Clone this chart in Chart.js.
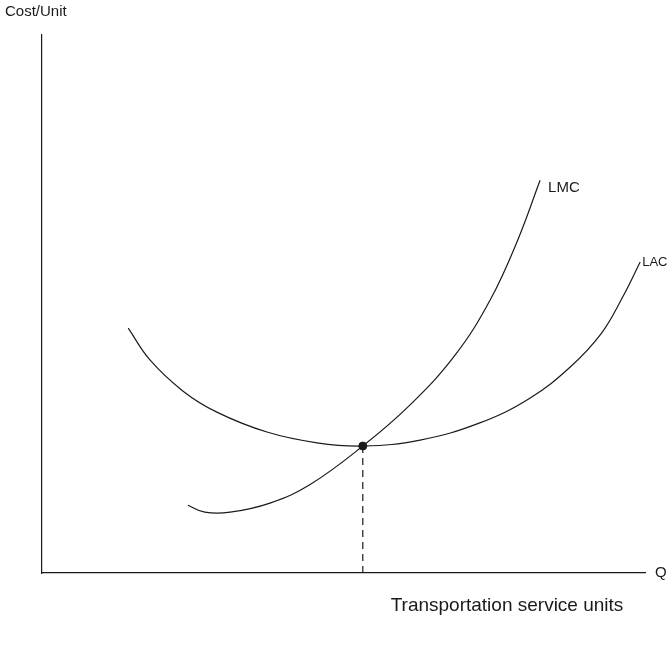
<!DOCTYPE html>
<html>
<head>
<meta charset="utf-8">
<script src="https://cdn.jsdelivr.net/npm/chart.js@4/dist/chart.umd.min.js"></script>
<style>
	html,body{margin:0;padding:0;background:#fff;}
	#wrap{width:668px;height:647px;}
</style>
</head>
<body>
<div id="wrap"><canvas id="chart" width="668" height="647"></canvas></div>
<script>
// long-run average cost curve (U shape)
const lacX = [14.3, 17.9, 23.4, 29.0, 37.3, 45.6, 53.2, 62.7, 72.6, 80.9, 87.6, 92.8, 96.3, 99.2];
const lacY = [45.5, 39.6, 33.8, 29.9, 26.2, 24.2, 23.6, 24.7, 27.9, 32.5, 38.3, 44.6, 51.3, 57.8];
// long-run marginal cost curve
const lmcX = [24.2, 27.0, 31.2, 37.8, 44.4, 53.2, 61.0, 68.5, 74.3, 78.9, 82.6];
const lmcY = [12.6, 11.3, 11.3, 13.0, 16.4, 23.6, 31.2, 40.5, 50.7, 61.9, 73.0];
// where LMC crosses LAC at its minimum
const optimum = [53.2, 23.6];

const curveLabels = ['LAC', 'LMC'];
const axisLabels = {y:'Cost/Unit', x:'Q', xTitle:'Transportation service units'};

function toPoints(xs, ys){
	return xs.map(function(x, i){ return {x:x, y:ys[i]}; });
}

const ink = '#1a1a1a';
const family = '"Liberation Sans", Arial, sans-serif';

const textPlugin = {
	id:'texts',
	afterDraw:function(chart){
		let c = chart.ctx;
		let xs = chart.scales.x;
		let ys = chart.scales.y;
		let area = chart.chartArea;
		c.save();
		c.fillStyle = ink;
		c.textBaseline = 'middle';
		c.textAlign = 'left';
		// curve end labels
		c.font = '13px ' + family;
		c.fillText(curveLabels[0], xs.getPixelForValue(lacX[lacX.length-1]) + 2, ys.getPixelForValue(lacY[lacY.length-1]));
		c.font = '15px ' + family;
		c.fillText(curveLabels[1], xs.getPixelForValue(lmcX[lmcX.length-1]) + 8, ys.getPixelForValue(lmcY[lmcY.length-1]) + 8);
		// axis labels
		c.fillText(axisLabels.y, 5, 12);
		c.fillText(axisLabels.x, area.right + 10, area.bottom);
		c.font = '19px ' + family;
		c.textAlign = 'center';
		c.fillText(axisLabels.xTitle, 507, area.bottom + 33);
		c.restore();
	}
};

let ctx = document.getElementById('chart');

let dataChart = {
	datasets:[{
		label:'LAC',
		data:toPoints(lacX, lacY),
		borderColor:ink,
		borderWidth:1.2,
		pointRadius:0,
		showLine:true,
		tension:0.4
	},{
		label:'LMC',
		data:toPoints(lmcX, lmcY),
		borderColor:ink,
		borderWidth:1.2,
		pointRadius:0,
		showLine:true,
		tension:0.4
	},{
		label:'drop',
		data:[{x:optimum[0], y:optimum[1]}, {x:optimum[0], y:0}],
		borderColor:ink,
		borderWidth:1.2,
		borderDash:[7,5],
		pointRadius:0,
		showLine:true
	},{
		label:'optimum',
		data:[{x:optimum[0], y:optimum[1]}],
		backgroundColor:ink,
		borderColor:ink,
		pointRadius:4,
		showLine:false
	}]
};

let myChart = new Chart(ctx,{
	type:'scatter',
	data:dataChart,
	plugins:[textPlugin],
	options:{
		responsive:false,
		animation:false,
		events:[],
		layout:{padding:{left:42, right:23, top:35, bottom:74}},
		plugins:{
			legend:{display:false},
			tooltip:{enabled:false}
		},
		scales:{
			x:{
				type:'linear', min:0, max:100,
				grid:{display:false, drawTicks:false},
				ticks:{display:false},
				border:{display:true, color:ink, width:1.2}
			},
			y:{
				type:'linear', min:0, max:100,
				grid:{display:false, drawTicks:false},
				ticks:{display:false},
				border:{display:true, color:ink, width:1.2}
			}
		}
	}
});
</script>
</body>
</html>
